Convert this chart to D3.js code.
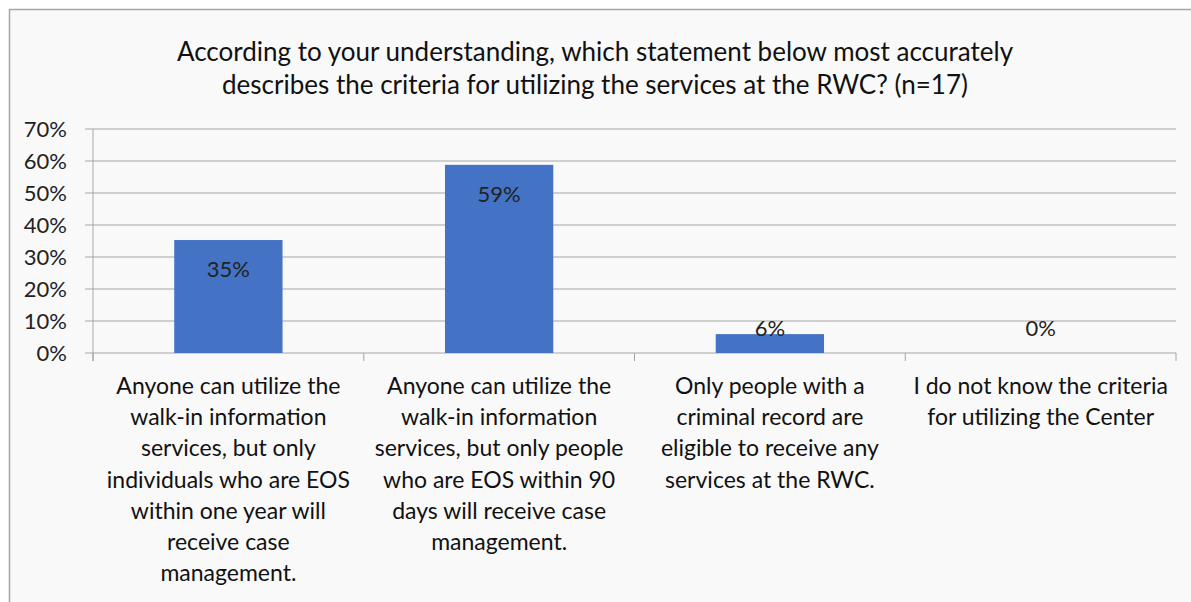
<!DOCTYPE html>
<html><head><meta charset="utf-8">
<script src="https://cdn.jsdelivr.net/npm/d3@7"></script>
<style>html,body{margin:0;padding:0;background:#fff;}svg{display:block;}</style>
</head><body>
<svg id="c" width="1191" height="602"></svg>
<script>
const titleLines = ["According to your understanding, which statement below most accurately",
                    "describes the criteria for utilizing the services at the RWC? (n=17)"];
const categories = [
  ["Anyone can utilize the","walk-in information","services, but only","individuals who are EOS","within one year will","receive case","management."],
  ["Anyone can utilize the","walk-in information","services, but only people","who are EOS within 90","days will receive case","management."],
  ["Only people with a","criminal record are","eligible to receive any","services at the RWC."],
  ["I do not know the criteria","for utilizing the Center"]
];
const values = [0.353, 0.588, 0.059, 0];
const valueLabels = ["35%","59%","6%","0%"];
const yTicks = [0,0.1,0.2,0.3,0.4,0.5,0.6,0.7];

const font = "Lato, 'Open Sans', sans-serif";
const svg = d3.select("#c");
svg.append("rect").attr("x",9.5).attr("y",9.5).attr("width",1200).attr("height",620)
  .attr("fill","#f9f9f9").attr("stroke","#a6a6a6").attr("stroke-width",1.5);

const x0 = 93, x1 = 1176, yTop = 129, yBot = 353;
const x = d3.scaleBand().domain(d3.range(categories.length)).range([x0,x1]).paddingInner(0.6).paddingOuter(0.3);
const xb = d3.scaleBand().domain(d3.range(categories.length)).range([x0,x1]);
const y = d3.scaleLinear().domain([0,0.7]).range([yBot,yTop]);

// gridlines
svg.append("g").selectAll("line").data(yTicks).join("line")
  .attr("x1",x0-8).attr("x2",x1).attr("y1",d=>y(d)).attr("y2",d=>y(d))
  .attr("stroke","#a6a6a6").attr("stroke-width",1);
// y axis line
svg.append("line").attr("x1",x0).attr("x2",x0).attr("y1",yTop).attr("y2",yBot+8).attr("stroke","#a6a6a6");
// category ticks
svg.append("g").selectAll("line").data(d3.range(categories.length+1)).join("line")
  .attr("x1",d=>x0+d*xb.bandwidth()).attr("x2",d=>x0+d*xb.bandwidth())
  .attr("y1",yBot).attr("y2",yBot+8).attr("stroke","#a6a6a6");

// y labels
svg.append("g").selectAll("text").data(yTicks).join("text")
  .attr("x",67).attr("y",d=>y(d)).attr("dy","0.36em").attr("text-anchor","end")
  .attr("font-family",font).attr("font-size",22).attr("fill","#222")
  .text(d=>d3.format(".0%")(d));

// bars
svg.append("g").selectAll("rect").data(values).join("rect")
  .attr("x",(d,i)=>x(i)).attr("width",x.bandwidth())
  .attr("y",d=>y(d)).attr("height",d=>yBot-y(d)).attr("fill","#4472c4");

// value labels
svg.append("g").selectAll("text").data(values).join("text")
  .attr("x",(d,i)=>xb(i)+xb.bandwidth()/2)
  .attr("y",d=>Math.min(y(d)+29, yBot-25)).attr("dy","0.36em").attr("text-anchor","middle")
  .attr("font-family",font).attr("font-size",22).attr("fill","#222")
  .text((d,i)=>valueLabels[i]);

// category labels
const cg = svg.append("g").selectAll("text").data(categories).join("text")
  .attr("text-anchor","middle").attr("font-family",font).attr("font-size",23).attr("fill","#111");
cg.each(function(lines,i){
  d3.select(this).selectAll("tspan").data(lines).join("tspan")
    .attr("x",xb(i)+xb.bandwidth()/2).attr("y",(d,j)=>394+j*31.2).text(d=>d);
});

// title
svg.append("g").selectAll("text").data(titleLines).join("text")
  .attr("x",595).attr("y",(d,i)=>61+i*33).attr("text-anchor","middle")
  .attr("font-family",font).attr("font-size",26).attr("fill","#111").text(d=>d);
</script>
</body></html>
